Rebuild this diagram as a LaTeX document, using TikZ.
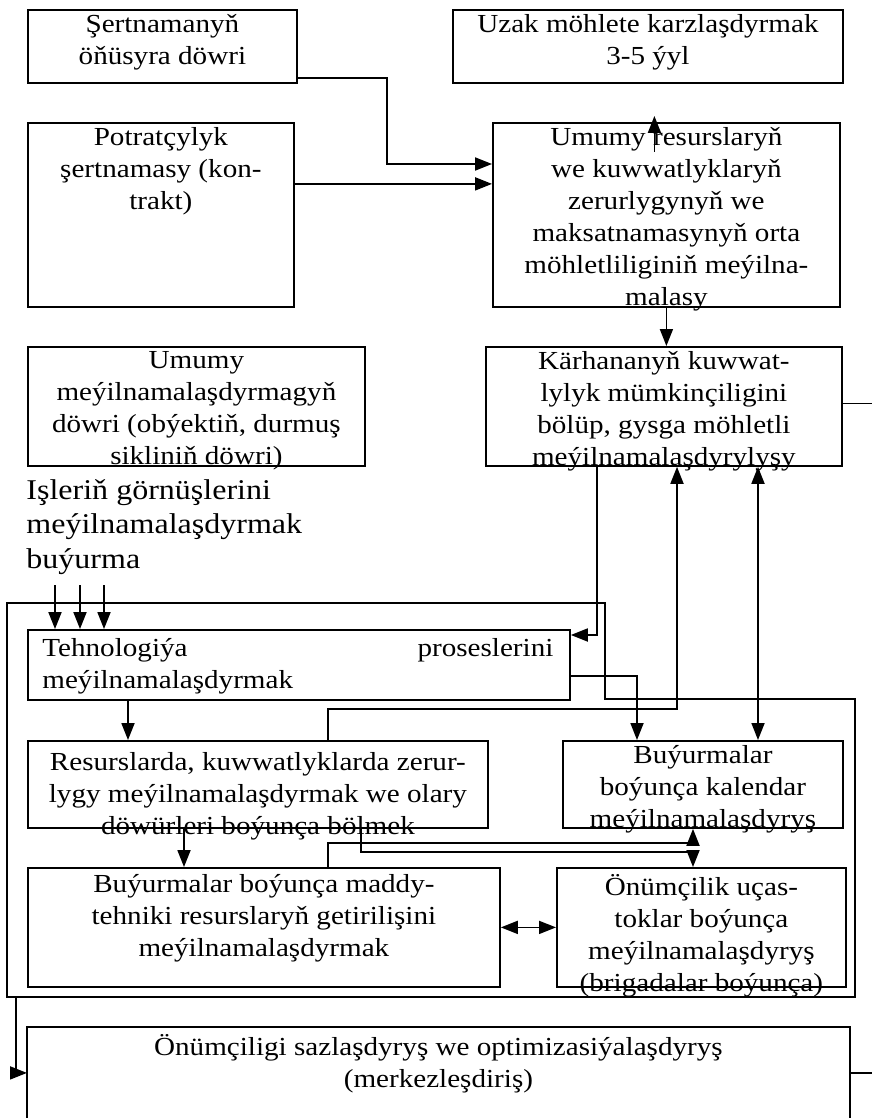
\documentclass[tikz,border=0pt]{standalone}
\usepackage{fontspec}
\setmainfont[FakeStretch=1.12]{Liberation Serif}
\usetikzlibrary{arrows.meta,positioning}

\tikzset{
  blk/.style={draw, line width=0.9pt, anchor=north west, inner sep=0pt},
  sz/.style 2 args={minimum width=#1*0.5pt, minimum height=#2*0.5pt},
  txt/.style={anchor=north, inner sep=0pt, align=center, yshift=-2.5pt,
    font=\fontsize{13}{16}\selectfont, execute at begin node=\strut},
  ln/.style={line width=0.9pt},
  arr/.style={ln, -{Triangle[length=8.5pt,width=6.5pt]}},
  arrb/.style={ln, {Triangle[length=8.5pt,width=6.5pt]}-{Triangle[length=8.5pt,width=6.5pt]}},
}

\begin{document}
\begin{tikzpicture}[x=0.5pt, y=-0.5pt]
  \useasboundingbox (0,0) rectangle (872,1118);

  % top row
  \node[blk, sz={269}{73}] (sert) at (27,9) {};
  \node[txt] (sert-t) at (sert.north) {Şertnamanyň\\öňüsyra döwri};
  \node[blk, sz={390}{73}] (uzak) at (452,9) {};
  \node[txt] (uzak-t) at (uzak.north) {Uzak möhlete karzlaşdyrmak\\3-5 ýyl};

  % second row
  \node[blk, sz={266}{184}] (potrat) at (27,122) {};
  \node[txt] (potrat-t) at (potrat.north) {Potratçylyk\\şertnamasy (kon-\\trakt)};
  \node[blk, sz={347}{184}] (umres) at (492,122) {};
  \node[txt] (umres-t) at (umres.north) {Umumy resurslaryň\\we kuwwatlyklaryň\\zerurlygynyň we\\maksatnamasynyň orta\\möhletliliginiň meýilna-\\malasy};

  % third row
  \node[blk, sz={337}{119}] (umdow) at (27,346) {};
  \node[txt] (umdow-t) at (umdow.north) {Umumy\\meýilnamalaşdyrmagyň\\döwri (obýektiň, durmuş\\sikliniň döwri)};
  \node[blk, sz={356}{119}] (karh) at (485,346) {};
  \node[txt] (karh-t) at (karh.north) {Kärhananyň kuwwat-\\lylyk mümkinçiligini\\bölüp, gysga möhletli\\meýilnamalaşdyrylyşy};

  \node[anchor=north west, inner sep=0pt, align=left,
    font=\fontsize{14.3}{17.2}\selectfont, execute at begin node=\strut]
    (isler) at (26,479) {Işleriň görnüşlerini\\meýilnamalaşdyrmak\\buýurma};

  % inner block
  \draw[ln] (7,603) -- (605,603) -- (605,699) -- (855,699) -- (855,997) -- (7,997) -- cycle;
  \node[blk, sz={542}{70}] (tehno) at (27,629) {};
  \node[txt, anchor=north west, align=left, text width=255.5pt, yshift=0pt] (tehno-t)
    at ([xshift=7.5pt]tehno.north west) {Tehnologiýa \hfill proseslerini\\meýilnamalaşdyrmak};
  \node[blk, sz={460}{87}] (resurs) at (27,740) {};
  \node[txt, yshift=-3.5pt] (resurs-t) at (resurs.north) {Resurslarda, kuwwatlyklarda zerur-\\lygy meýilnamalaşdyrmak we olary\\döwürleri boýunça bölmek};
  \node[blk, sz={280}{87}] (kalen) at (562,740) {};
  \node[txt] (kalen-t) at (kalen.north) {Buýurmalar\\boýunça kalendar\\meýilnamalaşdyryş};
  \node[blk, sz={472}{119}] (maddy) at (27,867) {};
  \node[txt, yshift=-1pt] (maddy-t) at (maddy.north) {Buýurmalar boýunça maddy-\\tehniki resurslaryň getirilişini\\meýilnamalaşdyrmak};
  \node[blk, sz={289}{119}] (ucast) at (556,867) {};
  \node[txt, yshift=-1pt] (ucast-t) at (ucast.north) {Önümçilik uças-\\toklar boýunça\\meýilnamalaşdyryş\\(brigadalar boýunça)};

  % bottom box, open at the foot
  \node[anchor=north west, inner sep=0pt, sz={822}{91}] (sazla) at (27,1027) {};
  \draw[ln] (sazla.south west) -- (sazla.north west) -- (sazla.north east) -- (sazla.south east);
  \node[txt, yshift=-1pt] (sazla-t) at (sazla.north) {Önümçiligi sazlaşdyryş we optimizasiýalaşdyryş\\(merkezleşdiriş)};

  % helper points
  \coordinate (rim) at (872,0);
  \coordinate (s1) at (387,164);
  \coordinate (k1) at (597,635);
  \coordinate (t1) at (637,676);
  \coordinate (r1) at (328,709);
  \coordinate (r2) at (677,709);
  \coordinate (kk) at (758,0);
  \coordinate (r3) at (361,852);
  \coordinate (r4) at (693,852);
  \coordinate (m1) at (328,843);
  \coordinate (m2) at (693,843);
  \coordinate (fr) at (16,997);

  % connectors
  \draw[arr] ([yshift=3pt]sert.south east) -| (s1) -- (s1 -| umres.west);
  \draw[arr] ([yshift=15.5pt]potrat.east) -- ([yshift=15.5pt]potrat.east -| umres.west);
  \draw[arr] ([xshift=-6pt,yshift=-15pt]umres.north) -- ([xshift=-6pt,yshift=3pt]umres.north);
  \draw[arr] (umres.south) -- (umres.south |- karh.north);
  \draw[ln] ([yshift=1.5pt]karh.east) -- ([yshift=1.5pt]karh.east -| rim);
  \draw[arr] (karh.south -| k1) -- (k1) -- (k1 -| tehno.east);
  \draw[arr] (tehno.east |- t1) -- (t1) -- (t1 |- kalen.north);
  \draw[arr] (r1 |- resurs.north) -- (r1) -- (r2) -- (r2 |- karh.south);
  \draw[arrb] (karh.south -| kk) -- (kalen.north -| kk);
  \foreach \bx in {55,80,104} {
    \coordinate (b\bx) at (\bx,585);
    \draw[arr] (b\bx) -- (b\bx |- tehno.north);
  }
  \draw[arr] ([xshift=50.5pt]tehno.south west) -- ([xshift=50.5pt]tehno.south west |- resurs.north);
  \draw[arr] ([xshift=78.5pt]resurs.south west) -- ([xshift=78.5pt]resurs.south west |- maddy.north);
  \draw[arr] (r3 |- resurs.south) -- (r3) -- (r4) -- (r4 |- ucast.north);
  \draw[arr] (m1 |- maddy.north) -- (m1) -- (m2) -- (m2 |- kalen.south);
  \draw[arrb] (maddy.east) -- (ucast.west);
  \draw[arr] (fr) |- (sazla.west);
  \draw[ln] (sazla.east) -- (sazla.east -| rim);
\end{tikzpicture}
\end{document}
